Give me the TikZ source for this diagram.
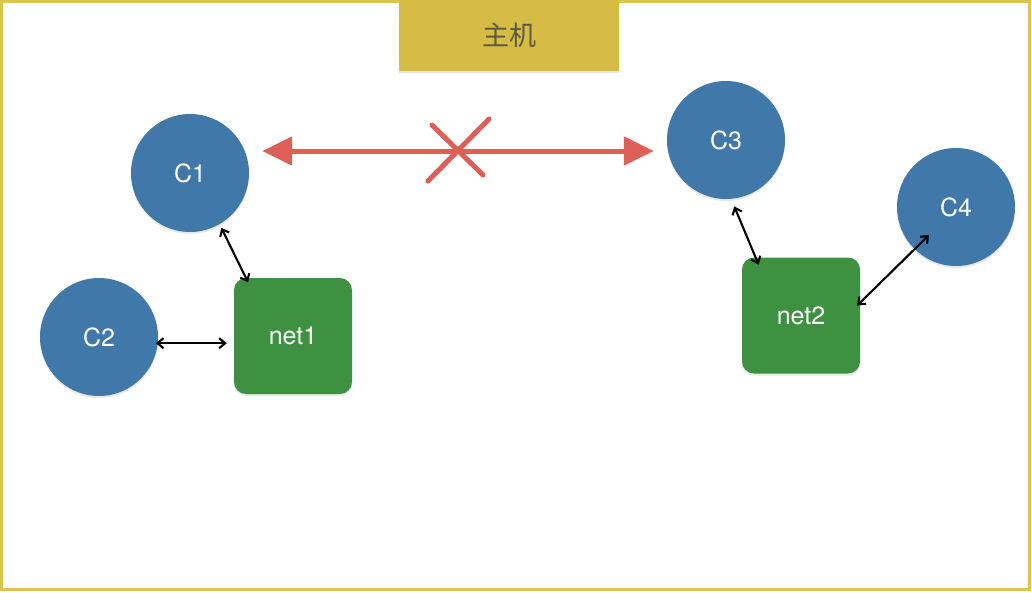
\documentclass[tikz,border=0pt]{standalone}
\usepackage{fontspec}
\setmainfont{TeX Gyre Heros}
\newfontfamily\cjk{Noto Sans CJK SC}
\usetikzlibrary{arrows.meta,shadows,calc}
\definecolor{frameY}{HTML}{DCC352}
\definecolor{titleY}{HTML}{D6BC45}
\definecolor{titleT}{HTML}{5C5A42}
\definecolor{cblue}{HTML}{3F78A9}
\definecolor{ngreen}{HTML}{3F9142}
\definecolor{cred}{HTML}{DD5F57}
\begin{document}
\begin{tikzpicture}[x=1pt,y=-1pt,
  cnode/.style={circle,fill=cblue,minimum size=118pt,inner sep=0pt,text=white,font=\fontsize{25}{30}\selectfont,drop shadow={opacity=0.18,shadow xshift=0pt,shadow yshift=-2pt}},
  netbox/.style={rectangle,rounded corners=12pt,fill=ngreen,minimum width=118pt,minimum height=116pt,inner sep=0pt,text=white,font=\fontsize{25}{30}\selectfont,drop shadow={opacity=0.18,shadow xshift=0pt,shadow yshift=-2pt}},
  link/.style={draw=black,line width=2.1pt,{Straight Barb[length=6pt,width=10pt]}-{Straight Barb[length=6pt,width=10pt]}},
  redline/.style={draw=cred,line width=5pt},
  crossline/.style={draw=cred,line width=5pt,line cap=round}]
\useasboundingbox (0,0) rectangle (1032,592);
\draw[frameY,line width=3pt] (1.5,1.5) rectangle (1029.5,589.5);
\node[fill=titleY,minimum width=220pt,minimum height=71pt,inner sep=0pt,anchor=north west,drop shadow={opacity=0.2,shadow xshift=0pt,shadow yshift=-2pt},text=titleT,font=\cjk\fontsize{27}{32}\selectfont] (host) at (399,0) {主机};
\node[cnode] (c1) at (190,173) {C1};
\node[cnode] (c2) at (99,337) {C2};
\node[cnode] (c3) at (726,140) {C3};
\node[cnode] (c4) at (956,207) {C4};
\node[netbox] (net1) at (293,336) {net1};
\node[netbox] (net2) at (801,315.5) {net2};
% red blocked link
\coordinate (redy) at (0,151);
\draw[redline,{Triangle[length=30pt,width=28pt]}-{Triangle[length=30pt,width=28pt]},shorten <=13pt,shorten >=13pt] (c1.east |- redy) -- (c3.west |- redy);
\coordinate (xc) at (458,150);
\draw[crossline] ($(xc)+(-26,-25)$) -- ($(xc)+(25,25)$);
\draw[crossline] ($(xc)+(31,-31)$) -- ($(xc)+(-30,31)$);
% black links
\draw[link,shorten <=4pt,shorten >=-5pt] (c1.-60) -- (net1.129);
\draw[link,shorten <=-2pt,shorten >=7pt] (c2.-6) -- (c2.-6 -| net1.west);
\draw[link,shorten <=8pt,shorten >=-8pt] (c3.-85) -- (net2.128.5);
\coordinate (c4in) at ($(c4.center)+(-27,28)$);
\coordinate (n2in) at ($(net2.east)+(-3,-10)$);
\draw[link] (c4in) -- (n2in);
\end{tikzpicture}
\end{document}
